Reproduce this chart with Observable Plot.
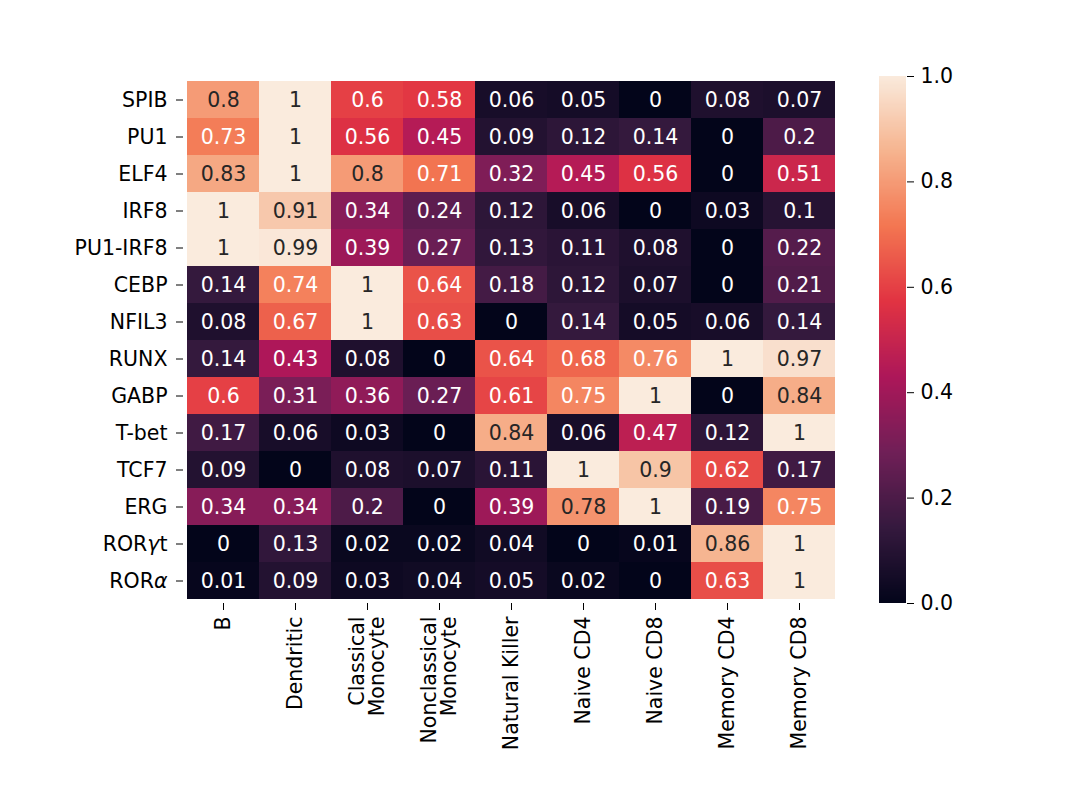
<!DOCTYPE html>
<html><head><meta charset="utf-8">
<script src="https://cdn.jsdelivr.net/npm/d3@7"></script>
<script src="https://cdn.jsdelivr.net/npm/@observablehq/plot@0.6"></script>
<style>
html,body{margin:0;padding:0;background:#fff;}
#wrap{position:relative;width:1074px;height:799px;overflow:hidden;}
#wrap svg{position:absolute;top:0;}
</style></head><body><div id="wrap"></div>
<script>
const cellTypes = ["B","Dendritic","Classical\nMonocyte","Nonclassical\nMonocyte","Natural Killer","Naive CD4","Naive CD8","Memory CD4","Memory CD8"];
const factors = ["SPIB","PU1","ELF4","IRF8","PU1-IRF8","CEBP","NFIL3","RUNX","GABP","T-bet","TCF7","ERG","RORγt","RORα"];
const values = [
  [0.8, 1, 0.6, 0.58, 0.06, 0.05, 0, 0.08, 0.07],
  [0.73, 1, 0.56, 0.45, 0.09, 0.12, 0.14, 0, 0.2],
  [0.83, 1, 0.8, 0.71, 0.32, 0.45, 0.56, 0, 0.51],
  [1, 0.91, 0.34, 0.24, 0.12, 0.06, 0, 0.03, 0.1],
  [1, 0.99, 0.39, 0.27, 0.13, 0.11, 0.08, 0, 0.22],
  [0.14, 0.74, 1, 0.64, 0.18, 0.12, 0.07, 0, 0.21],
  [0.08, 0.67, 1, 0.63, 0, 0.14, 0.05, 0.06, 0.14],
  [0.14, 0.43, 0.08, 0, 0.64, 0.68, 0.76, 1, 0.97],
  [0.6, 0.31, 0.36, 0.27, 0.61, 0.75, 1, 0, 0.84],
  [0.17, 0.06, 0.03, 0, 0.84, 0.06, 0.47, 0.12, 1],
  [0.09, 0, 0.08, 0.07, 0.11, 1, 0.9, 0.62, 0.17],
  [0.34, 0.34, 0.2, 0, 0.39, 0.78, 1, 0.19, 0.75],
  [0, 0.13, 0.02, 0.02, 0.04, 0, 0.01, 0.86, 1],
  [0.01, 0.09, 0.03, 0.04, 0.05, 0.02, 0, 0.63, 1]
];
const colorbarTicks = [0, 0.2, 0.4, 0.6, 0.8, 1.0];
const rocketStops = ["#03051a","#35193e","#701f57","#ad1759","#e13342","#f37651","#f6b48f","#faebdd"];

(function () {
const rocket = d3.piecewise(d3.interpolateRgb, rocketStops);
const cells = factors.flatMap((f, i) => cellTypes.map((c, j) => ({factor: f, cell: c, value: values[i][j]})));
const FONT = "'DejaVu Sans', sans-serif";
const FS = 20.5;
const W = 1074, H = 799;
const pL = 183, pR = 838, pT = 76, pB = 603;

const heat = Plot.plot({
  width: W, height: H,
  marginLeft: pL, marginRight: W - pR, marginTop: pT, marginBottom: H - pB,
  style: {fontFamily: FONT, fontSize: FS + "px", background: "transparent", color: "#000"},
  x: {domain: cellTypes, padding: 0, label: null, tickRotate: -90, tickSize: 7, tickPadding: 6},
  y: {domain: factors, padding: 0, label: null, tickSize: 7, tickPadding: 9},
  color: {type: "linear", domain: [0, 1], interpolate: rocket},
  marks: [
    Plot.cell(cells, {x: "cell", y: "factor", fill: "value", inset: 0}),
    Plot.text(cells.filter(d => d.value >= 0.77), {x: "cell", y: "factor", text: d => String(d.value), fill: "#262626", fontSize: FS}),
    Plot.text(cells.filter(d => d.value < 0.77), {x: "cell", y: "factor", text: d => String(d.value), fill: "#ffffff", fontSize: FS})
  ]
});
heat.querySelectorAll("text").forEach(t => {
  const s = t.textContent;
  const m = s.match(/^(ROR)([γα])(t?)$/);
  if (m) {
    t.textContent = "";
    const ns = "http://www.w3.org/2000/svg";
    [[m[1], false], [m[2], true], [m[3], false]].forEach(([str, it]) => {
      if (!str) return;
      const sp = document.createElementNS(ns, "tspan");
      sp.textContent = str;
      if (it) sp.setAttribute("font-style", "italic");
      t.appendChild(sp);
    });
  }
});
heat.style.left = "0px";
document.getElementById("wrap").appendChild(heat);

const cbLeft = 879, cbWidth = 27;
const step = 0.002;
const gradient = d3.range(0, 1, step);
const cbar = Plot.plot({
  width: W - cbLeft, height: H,
  marginLeft: 0, marginRight: W - cbLeft - cbWidth, marginTop: pT, marginBottom: H - pB,
  style: {fontFamily: FONT, fontSize: FS + "px", background: "transparent", color: "#000"},
  x: {domain: [0, 1], axis: null},
  y: {domain: [0, 1], axis: "right", ticks: colorbarTicks, tickFormat: d3.format(".1f"), tickSize: 7, tickPadding: 7, label: null},
  color: {type: "linear", domain: [0, 1], interpolate: rocket},
  marks: [
    Plot.rect(gradient, {x1: 0, x2: 1, y1: d => d, y2: d => Math.min(1, d + step * 2), fill: d => d, inset: 0, shapeRendering: "crispEdges"})
  ]
});
cbar.style.left = cbLeft + "px";
document.getElementById("wrap").appendChild(cbar);
})();
</script></body></html>
